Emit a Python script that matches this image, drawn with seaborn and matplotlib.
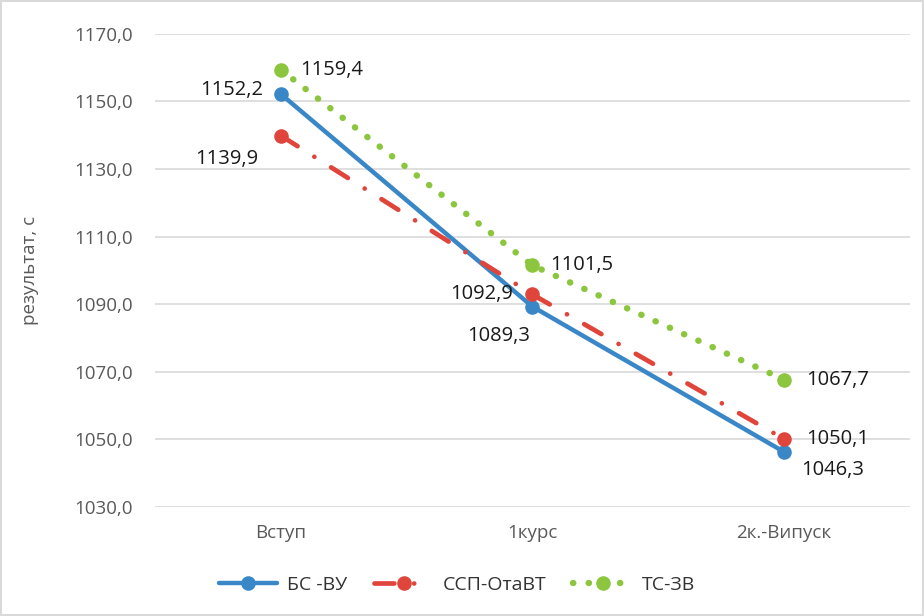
import matplotlib
matplotlib.use('Agg')
import matplotlib.pyplot as plt
import seaborn as sns

# Data
categories = ['Вступ', '1курс', '2к.-Випуск']
bs_vu = [1152.2, 1089.3, 1046.3]
ssp_otavt = [1139.9, 1092.9, 1050.1]
ts_zv = [1159.4, 1101.5, 1067.7]
series_names = ['БС -ВУ', 'ССП-ОтаВТ', 'ТС-ЗВ']
y_ticks = [1030, 1050, 1070, 1090, 1110, 1130, 1150, 1170]

sns.set_theme(style='white')
plt.rcParams['font.family'] = ['Open Sans', 'DejaVu Sans']

fig = plt.figure(figsize=(9.24, 6.16), dpi=100)
fig.patch.set_edgecolor('#d9d9d9')
fig.patch.set_linewidth(1.5)
ax = fig.add_axes([0.1677, 0.177, 0.817, 0.768])

styles = [
    dict(color='#3a87c8', linestyle='-', linewidth=3.2),
    dict(color='#e0453c', linestyle=(0, (4.2, 4.2, 0.01, 4.2)), linewidth=3.4),
    dict(color='#8cc63f', linestyle=(0, (0.05, 2.4)), linewidth=4.6),
]
all_series = [bs_vu, ssp_otavt, ts_zv]

for vals, name, st in zip(all_series, series_names, styles):
    sns.lineplot(x=categories, y=vals, ax=ax, sort=False, label=name,
                 marker='o', markersize=10.5, markeredgewidth=0,
                 dash_capstyle='round', solid_capstyle='round', **st)

# Data labels: (dx, dy in points, alignment)
offsets = [
    [(-13, 3, 'right'), (-1.5, -21, 'right'), (12, -13, 'left')],
    [(-16, -17, 'right'), (-14, 0, 'right'), (16, 0, 'left')],
    [(14, 0, 'left'), (13, 0, 'left'), (16, 0, 'left')],
]
for vals, offs in zip(all_series, offsets):
    for i, (v, (dx, dy, ha)) in enumerate(zip(vals, offs)):
        ax.annotate(f'{v:.1f}'.replace('.', ','), (i, v), xytext=(dx, dy),
                    textcoords='offset points', ha=ha, va='center',
                    fontsize=14.5, color='#1a1a1a')

ax.set_xlim(-0.5, 2.5)
ax.set_ylim(1030, 1170)
ax.set_yticks(y_ticks)
ax.set_yticklabels([f'{t:.1f}'.replace('.', ',') for t in y_ticks])
ax.yaxis.grid(True, color='#d9d9d9', linewidth=1.2)
ax.xaxis.grid(False)
for s in ax.spines.values():
    s.set_visible(False)
ax.tick_params(axis='both', length=0, labelsize=13.5, labelcolor='#595959')
ax.tick_params(axis='y', pad=16)
ax.tick_params(axis='x', pad=12)
ax.set_ylabel('результат, с', fontsize=13.5, color='#595959')
ax.yaxis.set_label_coords(-0.153, 0.5)
ax.set_xlabel('')

ax.legend(loc='center', bbox_to_anchor=(0.40, -0.165), ncol=3,
          frameon=False, fontsize=14, handlelength=3, columnspacing=1.4,
          handletextpad=0.5, labelcolor='#333333')

fig.savefig('out.png', dpi=100)
